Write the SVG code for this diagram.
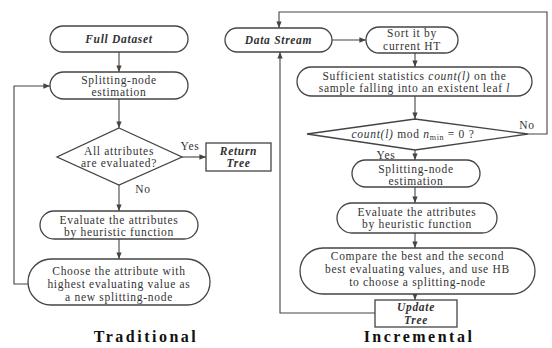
<svg xmlns="http://www.w3.org/2000/svg" width="552" height="348" viewBox="0 0 552 348">
<defs>
<style>
.n{fill:#fff;stroke:#444;stroke-width:1.3}
.c{fill:none;stroke:#444;stroke-width:1.1}
.t{font-family:"Liberation Serif","Times New Roman",serif;font-size:11.5px;letter-spacing:0.7px;fill:#333;text-anchor:middle}
.b{font-weight:bold;font-style:italic}
.h{font-family:"Liberation Serif","Times New Roman",serif;font-size:16px;font-weight:bold;fill:#111;text-anchor:middle;letter-spacing:2.5px}
.i{font-style:italic}
</style>
<marker id="a" viewBox="0 0 10 10" refX="10" refY="5" markerWidth="6" markerHeight="6" orient="auto">
<path d="M0,1 L10,5 L0,9 z" fill="#444"/>
</marker>
</defs>
<rect width="552" height="348" fill="#fff"/>

<g id="connectors" class="c" marker-end="url(#a)">
<path d="M119,52 V72"/>
<path d="M119,99 V128"/>
<path d="M182,157 H206"/>
<path d="M119,185 V211"/>
<path d="M119,239 V259"/>
<path d="M28,284 H14 V86 H50"/>
<path d="M332,40 H366"/>
<path d="M415,53 V67"/>
<path d="M415,96 V119"/>
<path d="M528,134 H547 V12 H279 V28"/>
<path d="M415,150 V160"/>
<path d="M415,187 V203"/>
<path d="M415,233 V248"/>
<path d="M415,294 V300"/>
<path d="M375,313 H280 V52"/>
</g>

<g id="full-dataset">
<rect class="n" x="50" y="26" width="138" height="26" rx="13"/>
<text class="t b" x="119" y="43">Full Dataset</text>
</g>
<g id="split-trad">
<rect class="n" x="50" y="72" width="138" height="27" rx="13.5"/>
<text class="t" x="119" y="83.5">Splitting-node</text>
<text class="t" x="119" y="96">estimation</text>
</g>
<g id="all-evaluated">
<polygon class="n" points="119,128 182,157 119,185 57,157"/>
<text class="t" x="119" y="154.5">All attributes</text>
<text class="t" x="119" y="167">are evaluated?</text>
<text class="t" x="190" y="150">Yes</text>
<text class="t" x="143" y="193">No</text>
</g>
<g id="return-tree">
<rect class="n" x="206" y="143" width="65" height="28"/>
<text class="t b" x="238.5" y="154.5">Return</text>
<text class="t b" x="238.5" y="167">Tree</text>
</g>
<g id="eval-trad">
<rect class="n" x="40" y="211" width="158" height="28" rx="14"/>
<text class="t" x="119" y="223.5">Evaluate the attributes</text>
<text class="t" x="119" y="236">by heuristic function</text>
</g>
<g id="choose">
<rect class="n" x="28" y="259" width="182" height="46" rx="23"/>
<text class="t" x="119" y="274.5">Choose the attribute with</text>
<text class="t" x="119" y="287.5">highest evaluating value as</text>
<text class="t" x="119" y="300.5">a new splitting-node</text>
</g>

<g id="data-stream">
<rect class="n" x="225" y="28" width="107" height="24" rx="12"/>
<text class="t b" x="278.5" y="44">Data Stream</text>
</g>
<g id="sort">
<rect class="n" x="366" y="27" width="92" height="26" rx="13"/>
<text class="t" x="412" y="37">Sort it by</text>
<text class="t" x="412" y="49.5">current HT</text>
</g>
<g id="sufficient">
<rect class="n" x="297" y="67" width="235" height="29" rx="14.5"/>
<text class="t" x="414.5" y="79.5">Sufficient statistics <tspan class="i">count(l)</tspan> on the</text>
<text class="t" x="414.5" y="92">sample falling into an existent leaf <tspan class="i">l</tspan></text>
</g>
<g id="mod-test">
<polygon class="n" points="415,119 528,134 415,150 307,134"/>
<text class="t" x="413" y="138"><tspan class="i">count(l)</tspan> mod <tspan class="i">n</tspan><tspan font-size="8" dy="2">min</tspan><tspan dy="-2"> = 0 ?</tspan></text>
<text class="t" x="527" y="129">No</text>
<text class="t" x="386" y="158.5">Yes</text>
</g>
<g id="split-inc">
<rect class="n" x="352" y="160" width="128" height="27" rx="13.5"/>
<text class="t" x="416" y="172.5">Splitting-node</text>
<text class="t" x="416" y="185">estimation</text>
</g>
<g id="eval-inc">
<rect class="n" x="337" y="203" width="160" height="30" rx="15"/>
<text class="t" x="417" y="215.5">Evaluate the attributes</text>
<text class="t" x="417" y="228">by heuristic function</text>
</g>
<g id="compare">
<rect class="n" x="300" y="248" width="235" height="46" rx="23"/>
<text class="t" x="417.5" y="259.5">Compare the best and the second</text>
<text class="t" x="417.5" y="272.5">best evaluating values, and use HB</text>
<text class="t" x="417.5" y="285.5">to choose a splitting-node</text>
</g>
<g id="update-tree">
<rect class="n" x="375" y="300" width="82" height="27"/>
<text class="t b" x="416" y="311">Update</text>
<text class="t b" x="416" y="323.5">Tree</text>
</g>

<text class="h" x="146" y="342">Traditional</text>
<text class="h" x="419" y="342">Incremental</text>
</svg>
